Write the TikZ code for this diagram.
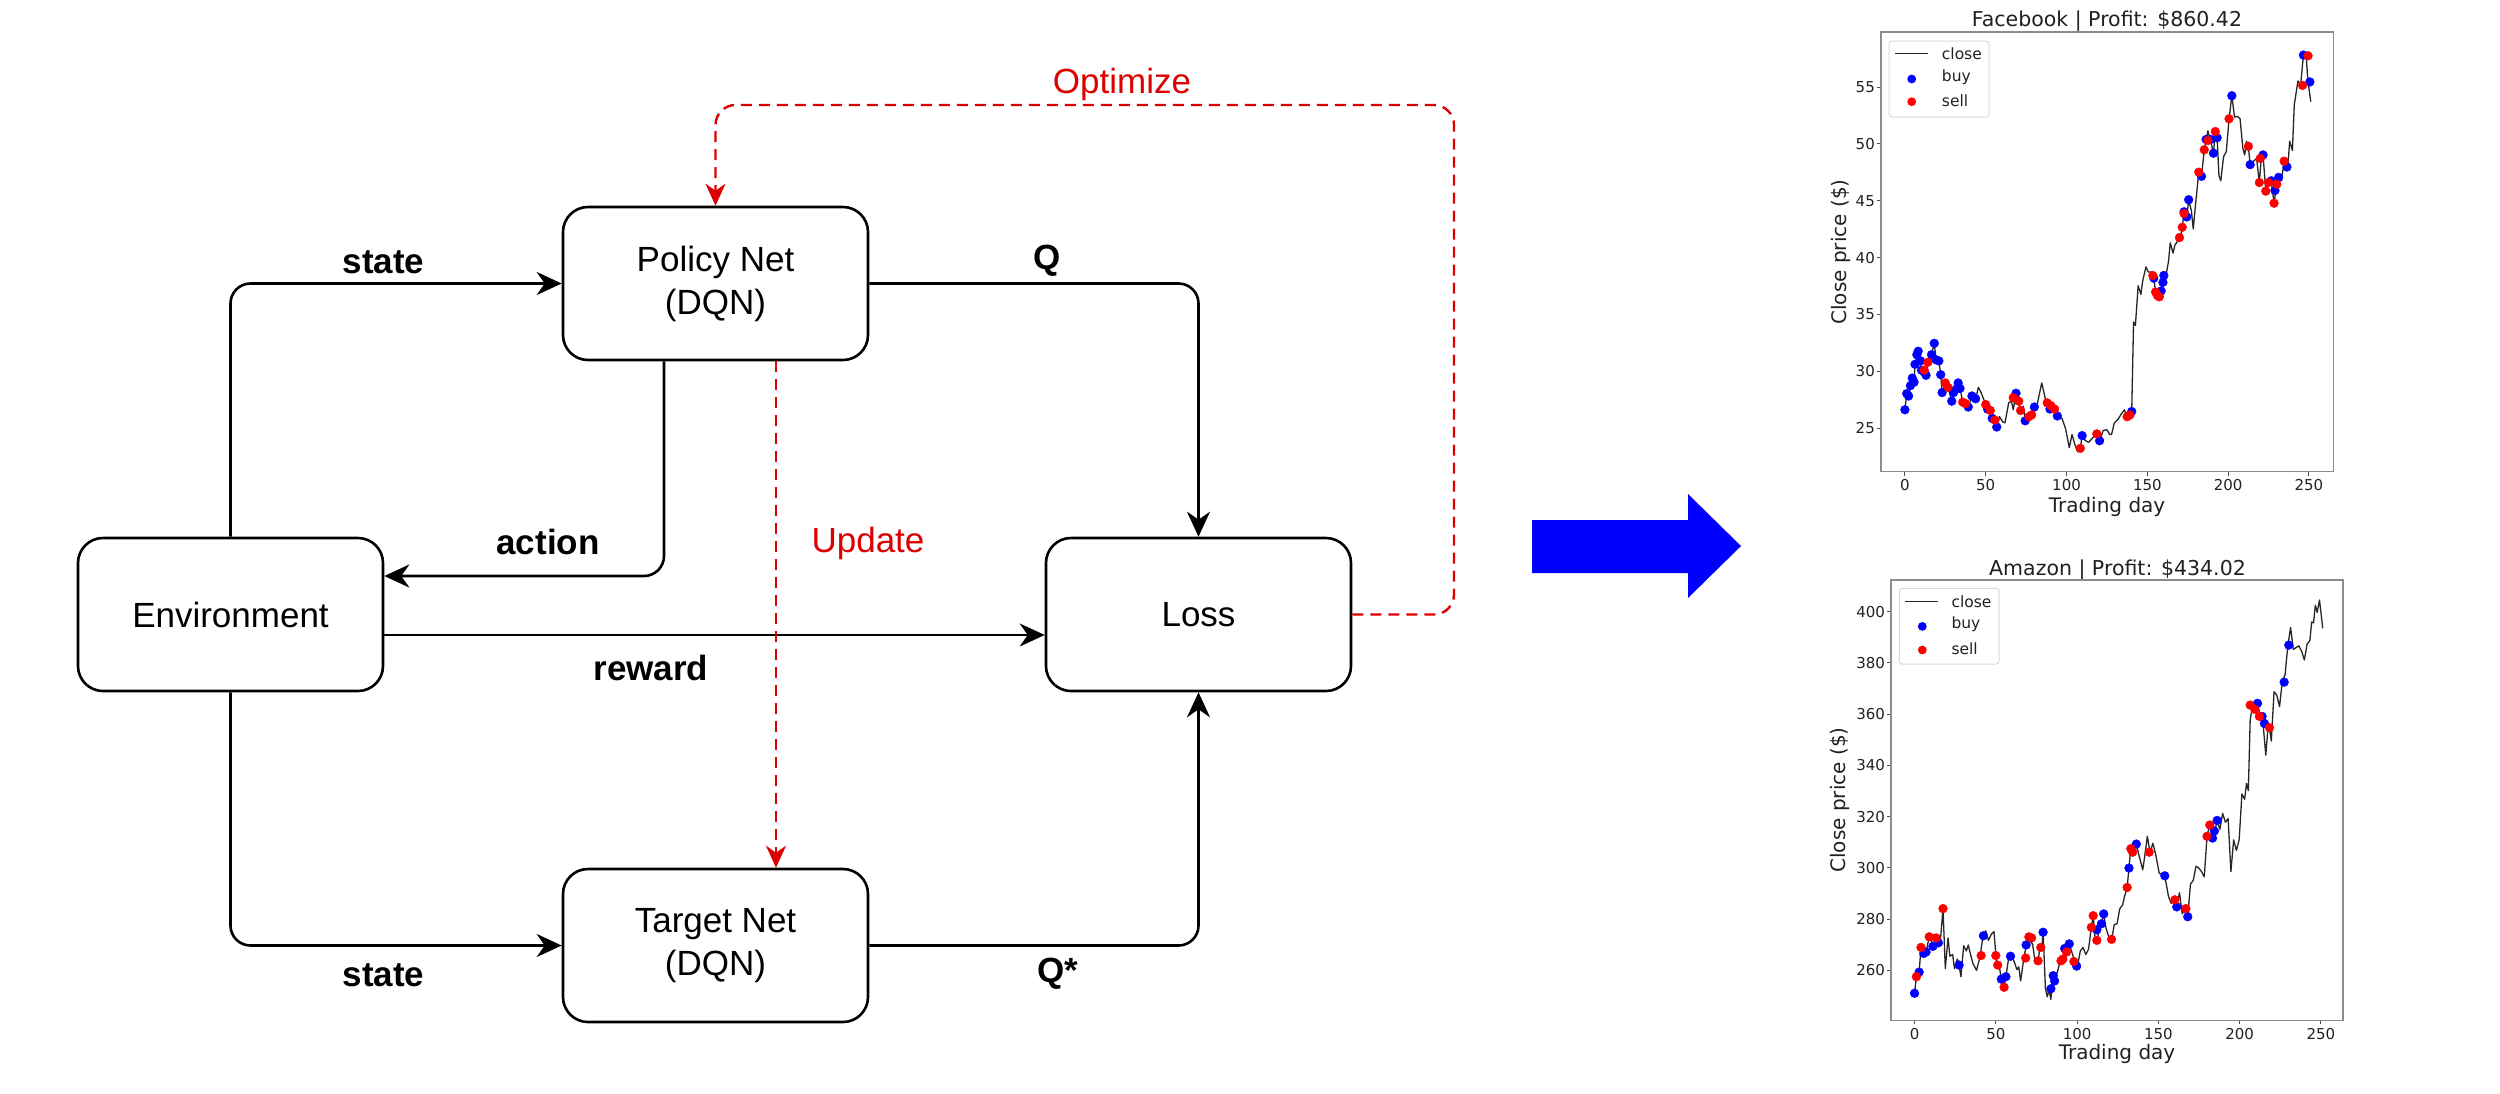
\documentclass[tikz,border=0pt]{standalone}
\usepackage{fontspec}
\setmainfont{Liberation Sans}
\newfontfamily\plotfont{DejaVu Sans}
\usetikzlibrary{arrows.meta}
\definecolor{dred}{RGB}{220,0,0}
\definecolor{pblue}{RGB}{0,0,255}
\definecolor{pred}{RGB}{255,0,0}
\begin{document}
\begin{tikzpicture}[x=1pt,y=-1pt,
  box/.style={draw, line width=2.6pt, rounded corners=25pt, minimum width=305pt, minimum height=153pt, align=center, font=\fontsize{35}{43}\selectfont, inner sep=0pt},
  flow/.style={line width=2.6pt, rounded corners=20pt, -{Stealth[length=25pt,width=23pt,inset=8pt]}},
  lbl/.style={font=\fontsize{35}{40}\selectfont\bfseries, inner sep=0pt},
  rflow/.style={draw=dred, line width=2.4pt, dash pattern=on 11pt off 7pt, rounded corners=20pt, -{Stealth[length=22pt,width=20pt,inset=7pt]}},
  rlbl/.style={text=dred, font=\fontsize{35}{40}\selectfont, inner sep=0pt},
  ttl/.style={font=\plotfont\fontsize{20.5}{24}\selectfont, text=black!87, inner sep=0pt},
  tck/.style={font=\plotfont\fontsize{15}{18}\selectfont, text=black!87, inner sep=0pt},
  axl/.style={font=\plotfont\fontsize{20}{24}\selectfont, text=black!87, inner sep=0pt},
  leg/.style={font=\plotfont\fontsize{15.5}{18}\selectfont, text=black!87, inner sep=0pt},
  frame/.style={draw=black!45, line width=1.3pt},
  tickline/.style={draw=black!70, line width=1pt},
  legbox/.style={draw=black!15, line width=1pt, fill=white, rounded corners=3pt},
  closeline/.style={draw=black!85, line width=1.3pt, line join=round},
  bdots/.style={draw=pblue, fill=pblue},
  rdots/.style={draw=pred, fill=pred}
]
\useasboundingbox (0,0) rectangle (2500,1093);
\fill[white] (0,0) rectangle (2500,1093);

% ---------------- diagram ----------------
\node[box] (env) at (230.5,614.5) {Environment};
\node[box] (pol) at (715.5,283.5) {Policy Net\\(DQN)};
\node[box] (loss) at (1198.5,614.5) {Loss};
\node[box] (tgt) at (715.5,945.5) {Target Net\\(DQN)};

\draw[flow] (env.north) |- (pol.west);
\draw[flow] ([xshift=-51.5pt]pol.south) |- ([yshift=38.5pt]env.east);
\draw[flow] ([yshift=-20.5pt]env.east) -- ([yshift=-20.5pt]loss.west);
\draw[flow] (env.south) |- (tgt.west);
\draw[flow] (pol.east) -| (loss.north);
\draw[flow] (tgt.east) -| (loss.south);
\draw[rflow] ([xshift=60.5pt]pol.south) -- ([xshift=60.5pt]tgt.north);
\coordinate (opt) at (1454,105);
\draw[rflow] (loss.east) -| (opt) -| (pol.north);

\node[lbl] (lstate1) at (383.5,262) {state};
\node[lbl] (laction) at (548,542) {action};
\node[lbl] (lreward) at (651,668) {reward};
\node[lbl] (lstate2) at (383.5,975) {state};
\node[lbl] (lq) at (1047,261) {Q};
\node[lbl] (lqs) at (1058,973.5) {Q*};
\node[rlbl] (lupd) at (868,543.5) {Update};
\node[rlbl] (lopt) at (1122,84) {Optimize};

% big blue arrow
\fill[pblue] (1532,520) -- (1688,520) -- (1688,494) -- (1741,546) -- (1688,598) -- (1688,573) -- (1532,573) -- cycle;

% ---------------- Facebook chart ----------------
\node[ttl] (fbt) at (2107,21.5) {Facebook | Profit: \$860.42};
\node[axl] (fbxl) at (2107,507) {Trading day};
\node[axl, rotate=90] (fbyl) at (1841,252) {Close price (\$)};
\begin{scope}[shift={(1780,0)}, x=0.45914pt, y=-0.34435pt]
  \foreach \i/\t in {0/0,1/50,2/100,3/150,4/200,5/250} {
    \draw[tickline] (272+176*\i,1370) -- ++(0,-4pt);
    \node[tck] (fbx\i) at (272+176*\i,1409) {\t};
  }
  \foreach \i/\t in {0/25,1/30,2/35,3/40,4/45,5/50,6/55} {
    \draw[tickline] (220,1243-165*\i) -- ++(-4pt,0);
    \node[tck, anchor=east, xshift=-6pt] (fby\i) at (220,1243-165*\i) {\t};
  }
  \draw[closeline] plot coordinates {(272,1190)(276,1143)(280,1150)(284,1120)(288,1098)(292,1110)(294,1058)(298,1030)(301,1020)(306,1048)(308,1075)(314,1080)(318,1090)(322,1052)(330,1030)(336,997)(340,1045)(346,1048)(350,1088)(353,1140)(360,1112)(366,1125)(374,1165)(378,1140)(384,1130)(388,1112)(392,1128)(398,1168)(404,1172)(410,1182)(418,1150)(426,1158)(432,1125)(438,1140)(448,1175)(452,1188)(458,1192)(462,1215)(468,1220)(472,1240)(478,1210)(485,1225)(490,1228)(498,1170)(504,1165)(508,1190)(514,1142)(520,1165)(524,1192)(530,1180)(534,1222)(540,1215)(546,1210)(554,1182)(560,1175)(570,1112)(580,1170)(588,1188)(594,1182)(600,1190)(604,1208)(614,1215)(622,1245)(630,1300)(636,1262)(642,1290)(648,1312)(654,1302)(658,1265)(664,1278)(672,1285)(682,1270)(690,1260)(696,1280)(704,1250)(712,1248)(718,1262)(722,1262)(728,1228)(736,1218)(742,1205)(750,1190)(756,1210)(766,1195)(770,935)(774,945)(780,830)(786,855)(790,815)(797,775)(802,790)(808,790)(814,808)(818,848)(824,862)(830,845)(836,800)(842,790)(846,760)(850,705)(856,735)(860,712)(866,700)(872,690)(876,660)(880,615)(886,630)(890,580)(896,612)(900,665)(906,580)(912,500)(918,512)(924,435)(928,405)(932,380)(938,410)(944,445)(948,385)(952,400)(956,510)(960,525)(966,455)(972,440)(978,345)(984,278)(990,340)(996,338)(1002,345)(1008,430)(1012,450)(1016,410)(1020,425)(1024,478)(1030,470)(1038,460)(1044,530)(1048,460)(1052,450)(1058,555)(1064,530)(1070,525)(1076,590)(1082,535)(1086,515)(1092,525)(1098,468)(1106,485)(1110,410)(1116,437)(1120,305)(1128,235)(1134,245)(1140,160)(1146,165)(1150,238)(1156,295)};
  \path[bdots] plot[only marks, mark=*, mark size=4.4pt] coordinates {(272,1190)(276,1143)(280,1150)(284,1120)(288,1098)(292,1110)(294,1058)(298,1030)(301,1020)(306,1048)(308,1075)(314,1080)(318,1090)(330,1030)(336,997)(340,1045)(346,1048)(350,1088)(353,1140)(374,1165)(378,1140)(384,1130)(388,1112)(392,1128)(410,1182)(418,1150)(426,1158)(452,1188)(462,1215)(472,1240)(514,1142)(534,1222)(554,1182)(588,1188)(604,1208)(658,1265)(696,1280)(766,1195)(814,808)(830,845)(834,820)(836,800)(880,615)(886,630)(890,580)(918,512)(928,405)(938,405)(944,445)(952,400)(984,278)(1024,478)(1052,450)(1070,525)(1078,553)(1086,515)(1104,485)(1140,160)(1154,238)};
  \path[rdots] plot[only marks, mark=*, mark size=4.4pt] coordinates {(314,1075)(322,1052)(360,1112)(366,1125)(398,1168)(404,1172)(448,1175)(458,1192)(468,1220)(508,1155)(520,1165)(524,1192)(542,1210)(548,1205)(582,1170)(590,1178)(598,1188)(654,1302)(690,1260)(756,1210)(762,1205)(812,800)(818,848)(822,858)(826,862)(870,690)(876,660)(880,620)(912,500)(924,435)(932,408)(948,382)(978,345)(1020,425)(1046,460)(1044,530)(1058,555)(1064,530)(1076,590)(1082,535)(1098,468)(1138,248)(1150,162)};
  \draw[frame] (220,93) rectangle (1205,1370);
\end{scope}
\draw[legbox] (1889,41) rectangle (1989,117);
\draw[closeline] (1895,53.4) -- (1928,53.4);
\fill[pblue] (1911.7,79) circle (4.4pt);
\fill[pred] (1911.7,101.7) circle (4.4pt);
\node[leg, anchor=west] (fbl1) at (1941.7,53.8) {close};
\node[leg, anchor=west] (fbl2) at (1941.7,77.5) {buy};
\node[leg, anchor=west] (fbl3) at (1941.7,101) {sell};

% ---------------- Amazon chart ----------------
\node[ttl] (amt) at (2117.5,570) {Amazon | Profit: \$434.02};
\node[axl] (amxl) at (2117,1053.5) {Trading day};
\node[axl, rotate=90] (amyl) at (1840,800) {Close price (\$)};
\begin{scope}[shift={(1780,540)}, x=0.45914pt, y=-0.35273pt]
  \foreach \i/\t in {0/0,1/50,2/100,3/150,4/200,5/250} {
    \draw[tickline] (293+177*\i,1362) -- ++(0,-4pt);
    \node[tck] (amx\i) at (293+177*\i,1400.5) {\t};
  }
  \foreach \i/\t in {0/260,1/280,2/300,3/320,4/340,5/360,6/380,7/400} {
    \draw[tickline] (242,1220-145.29*\i) -- ++(-4pt,0);
    \node[tck, anchor=east, xshift=-6pt] (amy\i) at (242,1220-145.29*\i) {\t};
  }
  \draw[closeline] plot coordinates {(293,1285)(297,1238)(303,1225)(307,1155)(313,1172)(318,1168)(325,1125)(330,1138)(334,1152)(340,1128)(346,1140)(350,1125)(355,1045)(360,1215)(366,1128)(370,1180)(376,1175)(380,1215)(386,1188)(390,1205)(394,1238)(400,1150)(406,1165)(410,1148)(414,1170)(420,1200)(428,1220)(436,1180)(442,1122)(448,1108)(454,1135)(460,1118)(466,1110)(472,1205)(478,1212)(482,1245)(488,1268)(492,1238)(498,1185)(504,1178)(510,1195)(516,1218)(520,1210)(524,1250)(530,1195)(536,1150)(542,1125)(546,1140)(550,1145)(556,1200)(562,1195)(566,1155)(570,1160)(573,1112)(578,1270)(582,1295)(586,1275)(590,1302)(594,1235)(598,1250)(604,1225)(610,1195)(616,1188)(620,1158)(626,1168)(630,1145)(636,1170)(642,1195)(648,1208)(654,1165)(660,1155)(666,1175)(672,1160)(678,1098)(682,1065)(686,1125)(690,1138)(696,1100)(700,1088)(705,1060)(710,1100)(716,1125)(722,1135)(728,1090)(734,1088)(740,1045)(746,1035)(750,1012)(756,985)(760,930)(764,875)(768,885)(776,862)(782,895)(790,935)(794,900)(800,840)(806,885)(812,860)(818,890)(826,945)(832,948)(838,952)(846,1010)(852,1030)(858,1020)(864,1040)(870,1000)(876,1060)(882,1045)(888,1068)(894,975)(900,965)(906,925)(912,930)(918,940)(924,955)(930,840)(936,805)(942,845)(948,820)(952,795)(958,820)(964,775)(970,800)(976,790)(982,940)(988,850)(994,880)(1000,850)(1006,720)(1012,735)(1016,690)(1020,710)(1024,510)(1030,462)(1034,490)(1040,463)(1046,500)(1052,520)(1058,610)(1062,545)(1066,532)(1070,570)(1076,430)(1082,440)(1088,472)(1094,400)(1100,382)(1106,300)(1112,248)(1118,310)(1124,305)(1130,300)(1136,315)(1142,340)(1148,295)(1154,285)(1158,232)(1162,235)(1166,185)(1170,205)(1175,170)(1182,250)};
  \path[bdots] plot[only marks, mark=*, mark size=4.4pt] coordinates {(293,1285)(303,1225)(313,1172)(318,1168)(333,1152)(345,1142)(390,1205)(443,1122)(482,1245)(492,1238)(502,1180)(536,1148)(573,1112)(590,1272)(595,1235)(598,1250)(620,1158)(630,1145)(646,1208)(690,1105)(700,1088)(705,1060)(760,930)(776,862)(838,952)(864,1040)(888,1068)(942,845)(946,825)(952,795)(1040,463)(1050,500)(1055,520)(1098,403)(1108,298)};
  \path[rdots] plot[only marks, mark=*, mark size=4.4pt] coordinates {(297,1238)(307,1155)(325,1125)(340,1128)(355,1045)(438,1178)(470,1178)(474,1205)(488,1268)(535,1185)(542,1125)(548,1128)(562,1193)(568,1155)(612,1193)(616,1188)(624,1168)(640,1195)(678,1098)(682,1065)(690,1135)(722,1132)(756,985)(764,875)(768,885)(804,885)(860,1020)(884,1045)(930,840)(936,808)(1024,468)(1034,480)(1044,500)(1066,532)};
  \draw[frame] (242,113) rectangle (1226,1362);
\end{scope}
\draw[legbox] (1899.4,588.3) rectangle (1999,664.2);
\draw[closeline] (1905,601.7) -- (1938.4,601.7);
\fill[pblue] (1922.3,626.4) circle (4.4pt);
\fill[pred] (1922.3,650) circle (4.4pt);
\node[leg, anchor=west] (aml1) at (1951.3,601.7) {close};
\node[leg, anchor=west] (aml2) at (1951.3,624.5) {buy};
\node[leg, anchor=west] (aml3) at (1951.3,649) {sell};
\end{tikzpicture}
\end{document}
